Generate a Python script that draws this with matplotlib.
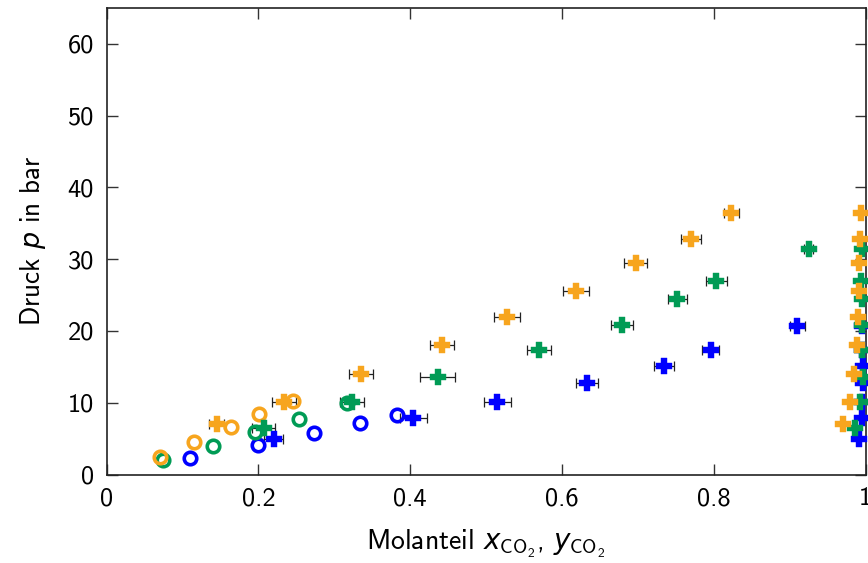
import numpy as np
import matplotlib
matplotlib.use("Agg")
import matplotlib.pyplot as plt

plt.rcParams['font.family'] = ['cmss10', 'DejaVu Sans']
plt.rcParams['mathtext.fontset'] = 'custom'
plt.rcParams['mathtext.rm'] = 'cmss10'
plt.rcParams['mathtext.it'] = 'DejaVu Sans:italic'
plt.rcParams['axes.formatter.use_mathtext'] = False

# Siedelinie / Taulinie, drei Temperaturen (blau, gruen, orange)
# offene Kreise: Literaturwerte (Fluessigphase)
circ_x_orange = [0.071, 0.115, 0.164, 0.201, 0.246]
circ_p_orange = [2.47, 4.56, 6.65, 8.37, 10.27]
circ_x_green = [0.075, 0.140, 0.195, 0.253, 0.317]
circ_p_green = [2.0, 4.0, 5.87, 7.72, 9.99]
circ_x_blue = [0.110, 0.199, 0.273, 0.334, 0.382]
circ_p_blue = [2.24, 4.1, 5.73, 7.12, 8.28]

# Kreuze: eigene Messungen, Fluessigphase mit Fehlerbalken
liq_x_orange = [0.145, 0.234, 0.335, 0.442, 0.527, 0.618, 0.697, 0.770, 0.823]
liq_p_orange = [6.98, 10.13, 13.99, 18.03, 21.97, 25.6, 29.5, 32.75, 36.46]
liq_err_orange = [0.010, 0.016, 0.016, 0.016, 0.017, 0.017, 0.015, 0.013, 0.010]
liq_x_green = [0.207, 0.323, 0.436, 0.570, 0.679, 0.752, 0.803, 0.925]
liq_p_green = [6.5, 10.13, 13.53, 17.33, 20.9, 24.4, 27.0, 31.36]
liq_err_green = [0.015, 0.016, 0.023, 0.016, 0.015, 0.013, 0.014, 0.006]
liq_x_blue = [0.220, 0.404, 0.515, 0.633, 0.734, 0.796, 0.910]
liq_p_blue = [4.93, 7.82, 10.13, 12.7, 15.1, 17.4, 20.7]
liq_err_blue = [0.013, 0.018, 0.018, 0.015, 0.013, 0.011, 0.010]

# Dampfphase
vap_y_orange = [0.970, 0.979, 0.985, 0.988, 0.990, 0.9914, 0.9914, 0.9924, 0.9933]
vap_y_green = [0.9858, 0.9923, 0.996, 0.9946, 0.9946, 0.9946, 0.9937, 0.9946]
vap_y_blue = [0.9914, 0.9946, 0.995, 0.996, 0.996, 0.995, 0.995]

c_blue = '#0000ff'
c_green = '#009b55'
c_orange = '#f7a51e'

fig = plt.figure(figsize=(8.68, 5.63), dpi=100)
ax = fig.add_axes([106.5 / 868, (563 - 474.5) / 563, (865.7 - 106.5) / 868, (474.5 - 8) / 563])

for xs, ps, col in [(circ_x_blue, circ_p_blue, c_blue),
                    (circ_x_green, circ_p_green, c_green),
                    (circ_x_orange, circ_p_orange, c_orange)]:
    ax.plot(xs, ps, 'o', ms=9, mfc='none', mec=col, mew=2.6, zorder=3)

for xs, ps, es, ys, col in [(liq_x_blue, liq_p_blue, liq_err_blue, vap_y_blue, c_blue),
                            (liq_x_green, liq_p_green, liq_err_green, vap_y_green, c_green),
                            (liq_x_orange, liq_p_orange, liq_err_orange, vap_y_orange, c_orange)]:
    ax.errorbar(xs, ps, xerr=es, fmt='none', ecolor='#222222', elinewidth=0.9,
                capsize=3.5, capthick=0.9, zorder=2)
    ax.plot(xs, ps, 'P', ms=11.5, mfc=col, mec=col, mew=0.3, zorder=4)
    ax.plot(ys, ps, 'P', ms=11.5, mfc=col, mec=col, mew=0.3, zorder=4, clip_on=False)

ax.set_xlim(0, 1)
ax.set_ylim(0, 65)
ax.set_xticks([0, 0.2, 0.4, 0.6, 0.8, 1.0])
ax.set_xticklabels(['0', '0.2', '0.4', '0.6', '0.8', '1'])
ax.set_yticks(np.arange(0, 61, 10))
ax.tick_params(direction='in', length=8, width=1, top=True, right=True,
               labelsize=19, pad=9, colors='#333333', labelcolor='black')
for s in ax.spines.values():
    s.set_linewidth(1.2)
    s.set_color('#222222')

ax.set_ylabel(r'Druck $p$ in bar', fontsize=19.5, labelpad=14)
ax.set_xlabel(r'Molanteil $x_{\mathrm{CO_2}}$, $y_{\mathrm{CO_2}}$', fontsize=20, labelpad=13)

fig.savefig('out.png', dpi=100)
